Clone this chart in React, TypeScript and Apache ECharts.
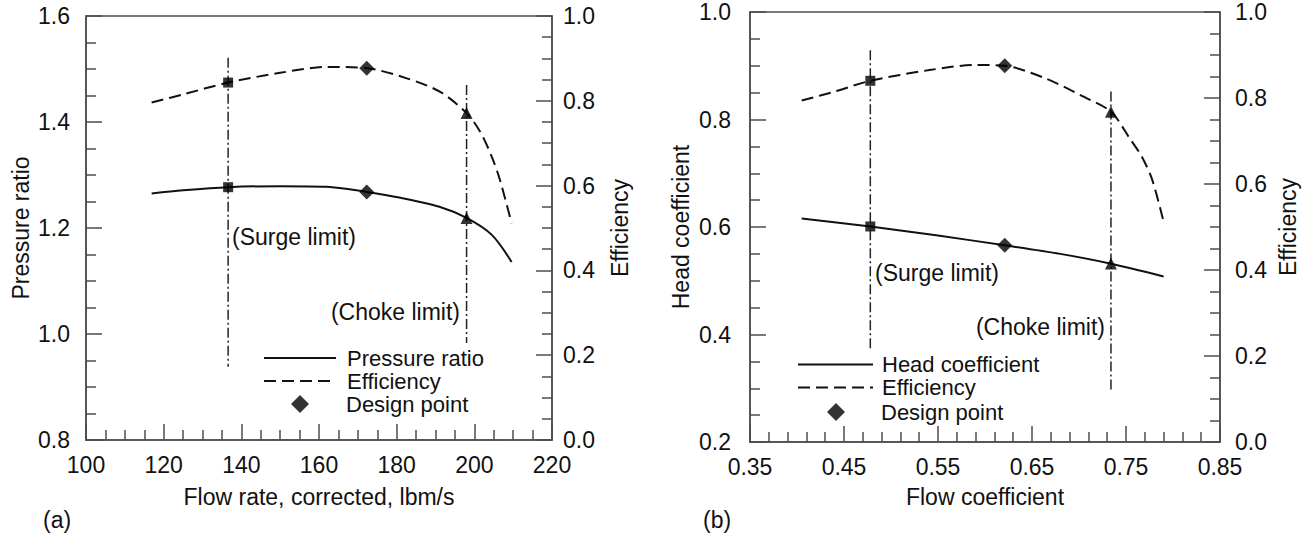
import React, { useEffect, useRef } from "react";
import * as echarts from "echarts";

// ---------- Panel (a) data ----------
const flowPrA = [116.9, 125, 136.6, 150, 162, 172.3, 181, 191, 198, 204.5, 209.6];
const pressureRatioA = [1.265, 1.271, 1.277, 1.279, 1.278, 1.268, 1.257, 1.24, 1.219, 1.187, 1.136];
const flowEffA = [116.9, 125, 136.6, 150, 162, 172.3, 182.6, 191.2, 198, 201.5, 204.5, 206.6, 209.6];
const efficiencyA = [0.796, 0.815, 0.843, 0.866, 0.88, 0.877, 0.853, 0.821, 0.771, 0.727, 0.668, 0.613, 0.511];
// markers: surge, design, choke
const markFlowA = [136.6, 172.3, 198];
const markPrA = [1.277, 1.268, 1.219];
const markEffA = [0.843, 0.877, 0.771];
// vertical limit lines: [top, bottom] on left axis
const limitFlowA = [136.6, 198];
const limitSpanA = [
  [1.521, 0.938],
  [1.47, 0.983],
];

// ---------- Panel (b) data ----------
const flowHeadB = [0.405, 0.478, 0.55, 0.621, 0.68, 0.733, 0.79];
const headCoefB = [0.616, 0.601, 0.584, 0.566, 0.55, 0.532, 0.508];
const flowEffB = [0.405, 0.44, 0.478, 0.541, 0.591, 0.621, 0.665, 0.702, 0.734, 0.754, 0.767, 0.778, 0.79];
const efficiencyB = [0.794, 0.815, 0.84, 0.865, 0.877, 0.875, 0.845, 0.806, 0.768, 0.706, 0.663, 0.609, 0.512];
const markFlowB = [0.478, 0.621, 0.734];
const markHeadB = [0.601, 0.566, 0.532];
const markEffB = [0.84, 0.875, 0.768];
const limitFlowB = [0.478, 0.734];
const limitSpanB = [
  [0.929, 0.373],
  [0.852, 0.293],
];

// ---------- Tick settings ----------
const xTicksA = { min: 100, max: 220, interval: 20, minor: 4 };
const xTicksB = { min: 0.35, max: 0.85, interval: 0.1, minor: 5 };
const prTicks = { min: 0.8, max: 1.6, interval: 0.2, minor: 4 };
const headTicks = { min: 0.2, max: 1.0, interval: 0.2, minor: 4 };
const effTicks = { min: 0, max: 1.0, interval: 0.2, minor: 4 };

const FONT = '"Liberation Sans", Arial, Helvetica, sans-serif';
const FS = 23;
const LFS = 22;
const AXIS_COLOR = "#4d4d4d";
const INK = "#111";

function zip(xs: number[], ys: number[]) {
  return xs.map((x, i) => [x, ys[i]]);
}

function makeAxis(
  t: { min: number; max: number; interval: number; minor: number },
  extra: any,
  digits: number,
  margin: number
) {
  return {
    type: "value",
    min: t.min,
    max: t.max,
    interval: t.interval,
    nameLocation: "middle",
    nameTextStyle: { fontSize: FS, fontFamily: FONT, color: INK },
    axisLine: { show: true, lineStyle: { color: AXIS_COLOR, width: 1.5 } },
    axisTick: { show: true, inside: true, length: 16, lineStyle: { color: AXIS_COLOR, width: 1.5 } },
    minorTick: { show: true, splitNumber: t.minor, length: 10, lineStyle: { color: AXIS_COLOR, width: 1.5 } },
    splitLine: { show: false },
    minorSplitLine: { show: false },
    axisLabel: {
      color: INK,
      fontSize: FS,
      fontFamily: FONT,
      margin,
      showMinLabel: true,
      showMaxLabel: true,
      formatter: (v: number) => v.toFixed(digits),
    },
    ...extra,
  };
}

const solidStyle = { color: INK, width: 2, type: "solid" };
const dashStyle = { color: INK, width: 2, type: [12, 6] };
const dashDotStyle = { color: "#222", width: 1.5, type: [10, 3, 2, 3] };

function panelSeries(
  xi: number,
  yLeft: number,
  yRight: number,
  leftName: string,
  flowL: number[],
  valL: number[],
  flowE: number[],
  valE: number[],
  markFlow: number[],
  markL: number[],
  markE: number[],
  limFlow: number[],
  limSpan: number[][]
) {
  const s: any[] = [];
  s.push({
    name: leftName,
    type: "line",
    xAxisIndex: xi,
    yAxisIndex: yLeft,
    data: zip(flowL, valL),
    symbol: "none",
    smooth: 0.3,
    lineStyle: solidStyle,
    itemStyle: { color: INK },
    z: 3,
  });
  s.push({
    name: "Efficiency",
    type: "line",
    xAxisIndex: xi,
    yAxisIndex: yRight,
    data: zip(flowE, valE),
    symbol: "none",
    smooth: 0.3,
    lineStyle: dashStyle,
    itemStyle: { color: INK },
    z: 3,
  });
  limFlow.forEach((f, i) => {
    s.push({
      name: i === 0 ? "Surge limit" : "Choke limit",
      type: "line",
      xAxisIndex: xi,
      yAxisIndex: yLeft,
      data: [
        [f, limSpan[i][0]],
        [f, limSpan[i][1]],
      ],
      symbol: "none",
      lineStyle: dashDotStyle,
      z: 2,
    });
  });
  const shapes = ["rect", "diamond", "triangle"];
  const sizes: any[] = [10, [15, 15], 12];
  [yLeft, yRight].forEach((ya, k) => {
    const vals = k === 0 ? markL : markE;
    markFlow.forEach((f, i) => {
      s.push({
        name: i === 1 ? "Design point" : i === 0 ? "Surge point" : "Choke point",
        type: "scatter",
        xAxisIndex: xi,
        yAxisIndex: ya,
        data: [[f, vals[i]]],
        symbol: shapes[i],
        symbolSize: sizes[i],
        itemStyle: { color: "#000" },
        z: 5,
      });
    });
  });
  return s;
}

export default function App() {
  const ref = useRef<HTMLDivElement>(null);
  useEffect(() => {
    if (!ref.current) return;
    const chart = echarts.init(ref.current, null, { renderer: "svg" });
    const textStyle = { fontSize: FS, fontFamily: FONT, fill: INK };
    const legendCommon = {
      orient: "vertical",
      padding: 0,
      itemGap: 0,
      itemHeight: 15,
      selectedMode: false,
      inactiveColor: INK,
    };
    const lt = (lh: number, padLeft: number) => ({
      fontSize: LFS,
      fontFamily: FONT,
      color: INK,
      lineHeight: lh,
      padding: [0, 0, 0, padLeft],
    });
    const option: any = {
      animation: false,
      backgroundColor: "#fff",
      textStyle: { fontFamily: FONT },
      grid: [
        { left: 86, top: 16, width: 466, height: 424, show: true, borderColor: AXIS_COLOR, borderWidth: 1.5 },
        { left: 750, top: 12, width: 470, height: 430, show: true, borderColor: AXIS_COLOR, borderWidth: 1.5 },
      ],
      xAxis: [
        makeAxis(xTicksA, { gridIndex: 0, name: "Flow rate, corrected, lbm/s", nameGap: 45 }, 0, 13),
        makeAxis(xTicksB, { gridIndex: 1, name: "Flow coefficient", nameGap: 43 }, 2, 13),
      ],
      yAxis: [
        makeAxis(prTicks, { gridIndex: 0, position: "left", name: "Pressure ratio", nameGap: 54 }, 1, 16),
        makeAxis(effTicks, { gridIndex: 0, position: "right", name: "Efficiency", nameGap: 56 }, 1, 11),
        makeAxis(headTicks, { gridIndex: 1, position: "left", name: "Head coefficient", nameGap: 58 }, 1, 19),
        makeAxis(effTicks, { gridIndex: 1, position: "right", name: "Efficiency", nameGap: 56 }, 1, 15),
      ],
      legend: [
        {
          ...legendCommon,
          left: 263,
          top: 346.5,
          itemWidth: 72,
          textStyle: lt(23, 6),
          data: [
            { name: "Pressure ratio", itemStyle: { opacity: 0 } },
            { name: "Efficiency", itemStyle: { opacity: 0 } },
          ],
        },
        {
          ...legendCommon,
          left: 291,
          top: 392.5,
          itemWidth: 18,
          itemHeight: 18,
          textStyle: lt(23, 32),
          data: [{ name: "Design point" }],
        },
        {
          ...legendCommon,
          left: 797,
          top: 353,
          itemWidth: 75,
          textStyle: lt(23, 4),
          data: [
            { name: "Head coefficient", itemStyle: { opacity: 0 } },
            { name: "Efficiency", itemStyle: { opacity: 0 } },
          ],
        },
        {
          ...legendCommon,
          left: 827,
          top: 400.5,
          itemWidth: 18,
          itemHeight: 18,
          textStyle: lt(23, 31),
          data: [{ name: "Design point" }],
        },
      ],
      graphic: [
        { type: "text", left: 232, top: 225, style: { ...textStyle, text: "(Surge limit)" } },
        { type: "text", right: 1312 - 460, top: 300, style: { ...textStyle, text: "(Choke limit)" } },
        { type: "text", left: 875, top: 261, style: { ...textStyle, text: "(Surge limit)" } },
        { type: "text", right: 1312 - 1105, top: 315, style: { ...textStyle, text: "(Choke limit)" } },
        { type: "text", left: 43, top: 508, style: { ...textStyle, text: "(a)" } },
        { type: "text", left: 703, top: 508, style: { ...textStyle, text: "(b)" } },
      ],
      series: [
        ...panelSeries(0, 0, 1, "Pressure ratio", flowPrA, pressureRatioA, flowEffA, efficiencyA, markFlowA, markPrA, markEffA, limitFlowA, limitSpanA),
        ...panelSeries(1, 2, 3, "Head coefficient", flowHeadB, headCoefB, flowEffB, efficiencyB, markFlowB, markHeadB, markEffB, limitFlowB, limitSpanB),
      ],
    };
    chart.setOption(option);
    return () => chart.dispose();
  }, []);
  return (
    <div
      ref={ref}
      style={{ position: "fixed", left: 0, top: 0, width: 1312, height: 537, background: "#fff" }}
    />
  );
}
